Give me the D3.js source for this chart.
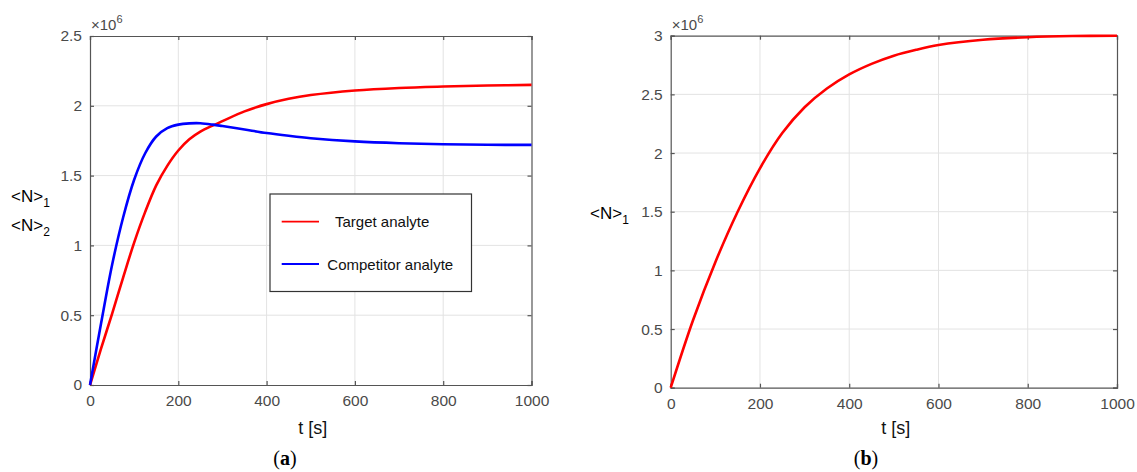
<!DOCTYPE html>
<html><head><meta charset="utf-8">
<script src="https://cdn.jsdelivr.net/npm/d3@7"></script>
<style>body{margin:0;background:#fff}svg{display:block}</style>
</head><body>
<svg id="c" width="1137" height="472"></svg>
<script>
// ---- data (values in units of 1e6) ----
const timesA = [0, 25, 50, 75, 100, 125, 150, 175, 200, 225, 250, 279, 300, 350, 400, 450, 500, 600, 700, 800, 900, 1000];
const targetA = [0, 0.26, 0.51, 0.77, 1.02, 1.24, 1.43, 1.57, 1.68, 1.76, 1.815, 1.86, 1.89, 1.96, 2.012, 2.05, 2.077, 2.11, 2.128, 2.138, 2.145, 2.15];
const competitorA = [0, 0.44, 0.86, 1.20, 1.47, 1.66, 1.78, 1.84, 1.865, 1.874, 1.875, 1.865, 1.855, 1.83, 1.805, 1.785, 1.768, 1.745, 1.732, 1.725, 1.721, 1.72];
const timesB = [0, 50, 100, 150, 200, 250, 300, 350, 400, 450, 500, 550, 600, 700, 800, 900, 1000];
const targetB = [0, 0.575, 1.07, 1.50, 1.87, 2.17, 2.39, 2.55, 2.67, 2.76, 2.83, 2.88, 2.92, 2.965, 2.987, 2.997, 3.0];
const xTicks = [0, 200, 400, 600, 800, 1000];
const yTicksA = [0, 0.5, 1, 1.5, 2, 2.5];
const yTicksB = [0, 0.5, 1, 1.5, 2, 2.5, 3];
const legendLabels = ["Target analyte", "Competitor analyte"];
const seriesColors = ["#ff0000", "#0000ff"];

const svg = d3.select("#c");
const tickFont = "Liberation Sans, Arial, sans-serif";

function panel(opt) {
  const x = d3.scaleLinear().domain([0, 1000]).range([opt.x0, opt.x1]);
  const y = d3.scaleLinear().domain([0, opt.ymax]).range([opt.y0, opt.y1]);
  const g = svg.append("g");
  // grid
  g.append("g").selectAll("line").data(xTicks.slice(1, -1)).join("line")
    .attr("x1", d => x(d)).attr("x2", d => x(d)).attr("y1", opt.y0).attr("y2", opt.y1)
    .attr("stroke", "#e3e3e3").attr("stroke-width", 1);
  g.append("g").selectAll("line").data(opt.yTicks.slice(1, -1)).join("line")
    .attr("y1", d => y(d)).attr("y2", d => y(d)).attr("x1", opt.x0).attr("x2", opt.x1)
    .attr("stroke", "#e3e3e3").attr("stroke-width", 1);
  // axes
  const ax = g.append("g").attr("transform", `translate(0,${opt.y0})`)
    .call(d3.axisBottom(x).tickValues(xTicks).tickSize(-4).tickPadding(10).tickFormat(d3.format("d")));
  const ay = g.append("g").attr("transform", `translate(${opt.x0},0)`)
    .call(d3.axisLeft(y).tickValues(opt.yTicks).tickSize(-4).tickPadding(8).tickFormat(d => d3.format("")(d)));
  const at = g.append("g").attr("transform", `translate(0,${opt.y1})`)
    .call(d3.axisTop(x).tickValues(xTicks).tickSize(-4).tickFormat(""));
  const ar = g.append("g").attr("transform", `translate(${opt.x1},0)`)
    .call(d3.axisRight(y).tickValues(opt.yTicks).tickSize(-4).tickFormat(""));
  [ax, ay, at, ar].forEach(a => {
    a.selectAll("path,line").attr("stroke", "#555").attr("stroke-width", 1.2);
    a.selectAll("text").attr("fill", "#4a4a4a").style("font-family", tickFont).style("font-size", "15.5px");
  });
  // lines
  opt.series.forEach(s => {
    g.append("path").datum(s.values.map((v, i) => [s.t[i], v]))
      .attr("fill", "none").attr("stroke", s.color).attr("stroke-width", 2.6)
      .attr("stroke-linejoin", "round")
      .attr("d", d3.line().x(d => x(d[0])).y(d => y(d[1])).curve(d3.curveCatmullRom.alpha(0.5)));
  });
  // exponent
  const ex = g.append("text").attr("x", opt.x0 + 1).attr("y", opt.y1 - 6)
    .style("font-family", tickFont).style("font-size", "15px").attr("fill", "#4a4a4a");
  ex.append("tspan").text("\u00d710");
  ex.append("tspan").attr("dy", -7).style("font-size", "11px").text("6");
  // x label
  g.append("text").attr("x", (opt.x0 + opt.x1) / 2 + 2).attr("y", 434).attr("text-anchor", "middle")
    .style("font-family", tickFont).style("font-size", "18px").attr("fill", "#111").text("t [s]");
  // panel letter
  const pl = g.append("text").attr("x", opt.letterX).attr("y", 465).attr("text-anchor", "middle")
    .style("font-family", "Liberation Serif, Times New Roman, serif").style("font-size", "20px").attr("fill", "#000");
  pl.append("tspan").text("(");
  pl.append("tspan").style("font-weight", "bold").text(opt.letter);
  pl.append("tspan").text(")");
  return {x, y, g};
}

function ylab(xp, yp, sub) {
  const t = svg.append("text").attr("x", xp).attr("y", yp)
    .style("font-family", tickFont).style("font-size", "17px").attr("fill", "#000");
  t.append("tspan").text("<N>");
  t.append("tspan").attr("dy", 5).style("font-size", "12px").text(sub);
}

const A = panel({x0: 90, x1: 531.5, y0: 385, y1: 36, ymax: 2.5, yTicks: yTicksA, letter: "a", letterX: 285,
  series: [{t: timesA, values: targetA, color: seriesColors[0]}, {t: timesA, values: competitorA, color: seriesColors[1]}]});
const B = panel({x0: 670.7, x1: 1117, y0: 387.7, y1: 35.7, ymax: 3, yTicks: yTicksB, letter: "b", letterX: 866,
  series: [{t: timesB, values: targetB, color: seriesColors[0]}]});

ylab(11, 202, "1");
ylab(11, 231, "2");
ylab(590, 219, "1");

// legend
const lg = svg.append("g");
lg.append("rect").attr("x", 270).attr("y", 194).attr("width", 201.5).attr("height", 97.5)
  .attr("fill", "#fff").attr("stroke", "#333").attr("stroke-width", 1.2);
const legY = [221.7, 264];
const legTx = [335, 327.3];
legendLabels.forEach((lab, i) => {
  lg.append("line").attr("x1", 281.7).attr("x2", 319).attr("y1", legY[i]).attr("y2", legY[i])
    .attr("stroke", seriesColors[i]).attr("stroke-width", 1.8);
  lg.append("text").attr("x", legTx[i]).attr("y", legY[i] + 5.5)
    .style("font-family", tickFont).style("font-size", "15px").attr("fill", "#111").text(lab);
});
</script>
</body></html>
